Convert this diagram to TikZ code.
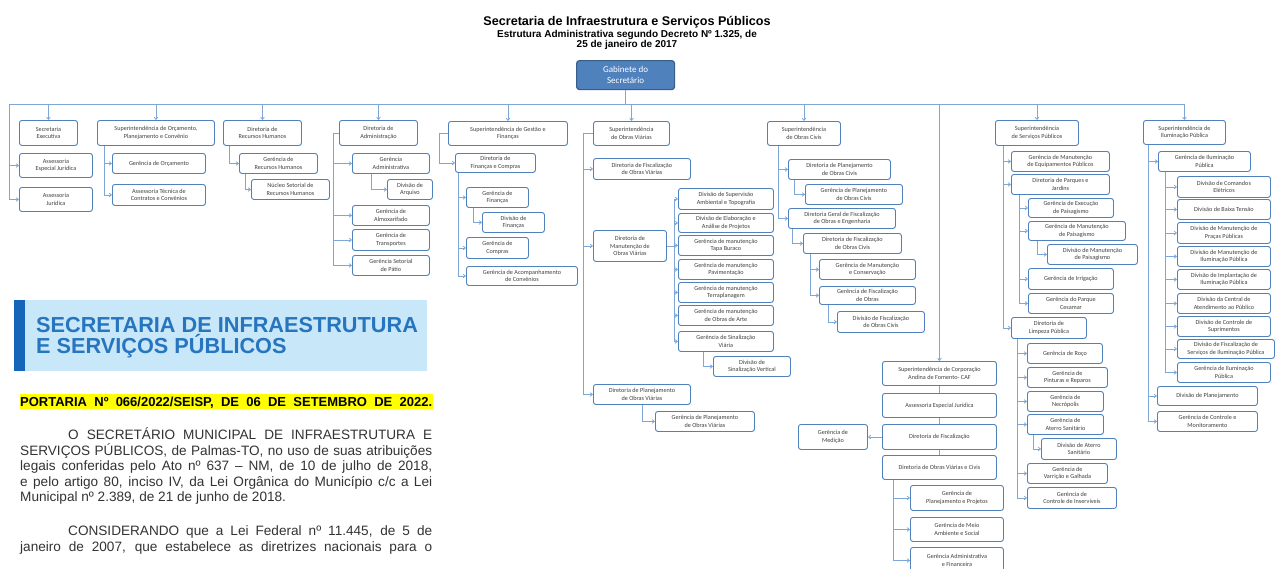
\documentclass[tikz,border=0pt]{standalone}
\usepackage{fontspec}
\setmainfont{Liberation Sans}
\newfontfamily\chartfont{Carlito}
\usepackage{tikz}
\usetikzlibrary{arrows.meta}
\usepackage{xcolor}
\definecolor{OfficeBlue}{RGB}{79, 129, 189}
\definecolor{OfficeDarkBlue}{RGB}{56, 93, 138}
\definecolor{OfficeLightBlue}{RGB}{127, 166, 216}
\definecolor{OfficeGrey}{RGB}{64, 64, 64}
\definecolor{DiarioSky}{RGB}{200, 231, 248}
\definecolor{DiarioNavy}{RGB}{21, 101, 184}
\definecolor{DiarioBlue}{RGB}{38, 117, 190}
\definecolor{DiarioInk}{RGB}{51, 51, 51}
\definecolor{DiarioYellow}{RGB}{255, 255, 0}
\colorlet{BoxStroke}{OfficeBlue}
\colorlet{BoxText}{OfficeGrey}
\colorlet{LinkColor}{OfficeLightBlue}
\colorlet{GabFill}{OfficeBlue}
\colorlet{GabStroke}{OfficeDarkBlue}
\tikzset{
    % Org chart box (white, rounded)
    orgbox/.style={
        draw=BoxStroke,
        fill=white,
        rounded corners=2.5pt,
        line width=0.9pt,
        anchor=north west,
        align=center,
        inner sep=1pt,
        text=BoxText,
        font=\chartfont\fontsize{6.2}{7.6}\selectfont
    },
    % Box size in pixels
    wh/.style 2 args={
        minimum width=#1pt,
        minimum height=#2pt
    },
    % Top box (Gabinete)
    gabbox/.style={
        draw=GabStroke,
        fill=GabFill,
        rounded corners=3pt,
        line width=1.2pt,
        anchor=north west,
        align=center,
        inner sep=1pt,
        text=white,
        font=\chartfont\fontsize{9}{11}\selectfont
    },
    % Connector with tip
    link/.style={
        draw=LinkColor,
        line width=0.8pt,
        -{Straight Barb[length=2.2pt,width=3.6pt]}
    },
    % Connector without tip
    trunk/.style={
        draw=LinkColor,
        line width=0.8pt
    },
    % Page texts
    titletext/.style={anchor=base, inner sep=0pt, font=\fontsize{12.6}{14}\selectfont\bfseries},
    subtitletext/.style={anchor=base, inner sep=0pt, font=\fontsize{10}{12}\selectfont\bfseries},
    bannertext/.style={anchor=base west, inner sep=0pt, text=DiarioBlue, font=\fontsize{21.7}{24}\selectfont\bfseries},
    doctext/.style={anchor=base west, inner sep=0pt, text=DiarioInk, font=\fontsize{13.6}{15.7}\selectfont}
}

\begin{document}
\begin{tikzpicture}[x=1pt, y=-1pt]

    \useasboundingbox (0,0) rectangle (1279,568);
    \fill[white] (0,0) rectangle (1279,568);
    \clip (0,0) rectangle (1279,568);

    % ==========================================
    % HEADER
    % ==========================================

    \node[titletext] (ttl1) at (627,25) {Secretaria de Infraestrutura e Serviços Públicos};
    \node[subtitletext] (ttl2) at (627,37.5) {Estrutura Administrativa segundo Decreto Nº 1.325, de};
    \node[subtitletext] (ttl3) at (627,47.5) {25 de janeiro de 2017};

    \node[gabbox, wh={98}{29}] (gab) at (576,60) {Gabinete do\\Secretário};

    % Main bar
    \coordinate (barL) at (9.5,104);

    % ==========================================
    % FIRST LEVEL
    % ==========================================

    \node[orgbox, wh={58}{25}] (sexec) at (19,120) {Secretaria\\Executiva};
    \node[orgbox, wh={117}{25}] (sorc) at (97,120) {Superintendência de Orçamento,\\Planejamento e Convênio};
    \node[orgbox, wh={78}{25}] (drh) at (223,120) {Diretoria de\\Recursos Humanos};
    \node[orgbox, wh={78}{25}] (dadm) at (339,120) {Diretoria de\\Administração};
    \node[orgbox, wh={119}{24}] (sgf) at (448,121) {Superintendência de Gestão e\\Finanças};
    \node[orgbox, wh={76}{24}] (sov) at (593,121) {Superintendência\\de Obras Viárias};
    \node[orgbox, wh={73}{24}] (soc) at (767,121) {Superintendência\\de Obras Civis};
    \node[orgbox, wh={114}{24}] (caf) at (882,361) {Superintendência de Corporação\\Andina de Fomento- CAF};
    \node[orgbox, wh={83}{25}] (ssp) at (995,120) {Superintendência\\de Serviços Públicos};
    \node[orgbox, wh={82}{24}] (sip) at (1143,120) {Superintendência de\\Iluminação Pública};

    \draw[trunk] (gab.south) -- (gab.south |- barL);
    \draw[trunk, line width=1pt] (barL) -- (barL -| sip.north);
    \foreach \s in {sexec, sorc, drh, dadm, sgf, sov, soc, caf, ssp, sip} {
        \draw[link] (barL -| \s.north) -- (\s.north);
    }

    % ==========================================
    % SECRETARIA EXECUTIVA / ASSESSORIAS
    % ==========================================

    \node[orgbox, wh={73}{24}] (aej) at (19,153) {Assessoria\\Especial Jurídica};
    \node[orgbox, wh={73}{24}] (ajur) at (19,187) {Assessoria\\Jurídica};
    \draw[link] (barL) |- (aej.west);
    \draw[link] (barL) |- (ajur.west);

    % ==========================================
    % ORCAMENTO
    % ==========================================

    \node[orgbox, wh={93}{20}] (gorc) at (112,153) {Gerência de Orçamento};
    \node[orgbox, wh={93}{21}] (atcc) at (112,184) {Assessoria Técnica de\\Contratos e Convênios};
    \coordinate (korc) at ([xshift=7pt]sorc.south west);
    \draw[link] (korc) |- (gorc.west);
    \draw[link] (korc) |- (atcc.west);

    % ==========================================
    % RECURSOS HUMANOS
    % ==========================================

    \node[orgbox, wh={78}{20}] (grh) at (239,153) {Gerência de\\Recursos Humanos};
    \node[orgbox, wh={78}{20}] (nsrh) at (251,179) {Núcleo Setorial de\\Recursos Humanos};
    \draw[link] ([xshift=6pt]drh.south west) |- (grh.west);
    \draw[link] ([xshift=6pt]grh.south west) |- (nsrh.west);

    % ==========================================
    % ADMINISTRACAO
    % ==========================================

    \node[orgbox, wh={77}{20}] (gadm) at (352,153) {Gerência\\Administrativa};
    \node[orgbox, wh={45}{20}] (darq) at (387,179) {Divisão de\\Arquivo};
    \node[orgbox, wh={77}{20}] (galm) at (352,205) {Gerência de\\Almoxarifado};
    \node[orgbox, wh={77}{21}] (gtra) at (352,229) {Gerência de\\Transportes};
    \node[orgbox, wh={77}{20}] (gpat) at (352,255) {Gerência Setorial\\de Pátio};
    \coordinate (kadm) at ([xshift=-6pt]dadm.west);
    \draw[trunk] (dadm.west) -- (kadm);
    \foreach \c in {gadm, galm, gtra, gpat} {
        \draw[link] (kadm) |- (\c.west);
    }
    \draw[link] ([xshift=19pt]gadm.south west) |- (darq.west);

    % ==========================================
    % GESTAO E FINANCAS
    % ==========================================

    \node[orgbox, wh={80}{19}] (dfc) at (455,153) {Diretoria de\\Finanças e Compras};
    \node[orgbox, wh={62}{20}] (gfin) at (466,187) {Gerência de\\Finanças};
    \node[orgbox, wh={62}{20}] (dfin) at (482,212) {Divisão de\\Finanças};
    \node[orgbox, wh={62}{21}] (gcom) at (466,237) {Gerência de\\Compras};
    \node[orgbox, wh={111}{19}] (gacv) at (466,266) {Gerência de Acompanhamento\\de Convênios};
    \coordinate (kgf) at ([xshift=-9pt]sgf.west);
    \draw[trunk] (sgf.west) -- (kgf);
    \draw[link] (kgf) |- (dfc.west);
    \foreach \c in {gfin, gcom, gacv} {
        \draw[link] ([xshift=3pt]dfc.south west) |- (\c.west);
    }
    \draw[link] ([xshift=7pt]gfin.south west) |- (dfin.west);

    % ==========================================
    % OBRAS VIARIAS
    % ==========================================

    \node[orgbox, wh={97}{21}] (dfov) at (593,158) {Diretoria de Fiscalização\\de Obras Viárias};
    \node[orgbox, wh={73}{31}] (dmov) at (593,230) {Diretoria de\\Manutenção de\\Obras Viárias};
    \node[orgbox, wh={97}{20}] (dpov) at (593,384) {Diretoria de Planejamento\\de Obras Viárias};
    \coordinate (kov) at ([xshift=-10pt]sov.west);
    \draw[trunk] (sov.west) -- (kov);
    \foreach \c in {dfov, dmov, dpov} {
        \draw[link] (kov) |- (\c.west);
    }

    % Manutencao children
    \coordinate (kmov) at ([xshift=7pt]dmov.east);
    \draw[trunk] (dmov.east) -- (kmov);
    \foreach \n/\y/\h/\txt in {
        dsat/188/21/{Divisão de Supervisão\\Ambiental e Topografia},
        deap/213/19/{Divisão de Elaboração e\\Análise de Projetos},
        gmtb/235/20/{Gerência de manutenção\\Tapa Buraco},
        gmpv/259/20/{Gerência de manutenção\\Pavimentação},
        gmtp/282/20/{Gerência de manutenção\\Terraplanagem},
        gmoa/305/20/{Gerência de manutenção\\de Obras de Arte},
        gsv/331/20/{Gerência de Sinalização\\Viária}} {
        \node[orgbox, wh={95}{\h}] (\n) at (678,\y) {\txt};
        \draw[link] (kmov) |- (\n.west);
    }
    \node[orgbox, wh={77}{20}] (dsvt) at (713,356) {Divisão de\\Sinalização Vertical};
    \draw[link] ([xshift=25pt]gsv.south west) |- (dsvt.west);

    \node[orgbox, wh={99}{20}] (gpov) at (655,411) {Gerência de Planejamento\\de Obras Viárias};
    \draw[link] ([xshift=49pt]dpov.south west) |- (gpov.west);

    % ==========================================
    % OBRAS CIVIS
    % ==========================================

    \node[orgbox, wh={102}{20}] (dpoc) at (788,159) {Diretoria de Planejamento\\de Obras Civis};
    \node[orgbox, wh={97}{20}] (gpoc) at (805,184) {Gerência de Planejamento\\de Obras Civis};
    \node[orgbox, wh={107}{20}] (dgfo) at (788,208) {Diretoria Geral de Fiscalização\\de Obras e Engenharia};
    \node[orgbox, wh={98}{20}] (dfoc) at (803,233) {Diretoria de Fiscalização\\de Obras Civis};
    \node[orgbox, wh={96}{20}] (gmc) at (819,259) {Gerência de Manutenção\\e Conservação};
    \node[orgbox, wh={96}{18}] (gfo) at (819,286) {Gerência de Fiscalização\\de Obras};
    \node[orgbox, wh={87}{21}] (dvfoc) at (837,311) {Divisão de Fiscalização\\de Obras Civis};
    \draw[link] ([xshift=11pt]soc.south west) |- (dpoc.west);
    \draw[link] ([xshift=11pt]soc.south west) |- (dgfo.west);
    \draw[link] ([xshift=6pt]dpoc.south west) |- (gpoc.west);
    \draw[link] ([xshift=4pt]dgfo.south west) |- (dfoc.west);
    \draw[link] ([xshift=7pt]dfoc.south west) |- (gmc.west);
    \draw[link] ([xshift=7pt]dfoc.south west) |- (gfo.west);
    \draw[link] ([xshift=9pt]gfo.south west) |- (dvfoc.west);

    % ==========================================
    % CAF
    % ==========================================

    \node[orgbox, wh={114}{24}] (aejc) at (882,393) {Assessoria Especial Jurídica};
    \node[orgbox, wh={114}{25}] (dfis) at (882,424) {Diretoria de Fiscalização};
    \node[orgbox, wh={114}{24}] (dovc) at (882,455) {Diretoria de Obras Viárias e Civis};
    \node[orgbox, wh={69}{25}] (gmed) at (798,424) {Gerência de\\Medição};
    \draw[trunk] (caf) -- (aejc);
    \draw[trunk] (aejc) -- (dfis);
    \draw[trunk] (dfis) -- (dovc);
    \draw[link] (dfis.west) -- (gmed.east);

    \node[orgbox, wh={93}{25}] (gpp) at (910,485) {Gerência de\\Planejamento e Projetos};
    \node[orgbox, wh={93}{24}] (gmas) at (910,517) {Gerência de Meio\\Ambiente e Social};
    \node[orgbox, wh={93}{26}] (gaf) at (910,547) {Gerência Administrativa\\e Financeira};
    \foreach \c in {gpp, gmas, gaf} {
        \draw[link] ([xshift=11pt]dovc.south west) |- (\c.west);
    }

    % ==========================================
    % SERVICOS PUBLICOS
    % ==========================================

    \node[orgbox, wh={98}{20}] (gmep) at (1011,151) {Gerência de Manutenção\\de Equipamentos Públicos};
    \node[orgbox, wh={98}{20}] (dpj) at (1011,174) {Diretoria de Parques e\\Jardins};
    \node[orgbox, wh={75}{21}] (dlp) at (1011,317) {Diretoria de\\Limpeza Pública};
    \foreach \c in {gmep, dpj, dlp} {
        \draw[link] ([xshift=8pt]ssp.south west) |- (\c.west);
    }

    % Parques e Jardins
    \node[orgbox, wh={85}{19}] (gexp) at (1028,198) {Gerência de Execução\\de Paisagismo};
    \node[orgbox, wh={97}{19}] (gmpa) at (1028,221) {Gerência de Manutenção\\de Paisagismo};
    \node[orgbox, wh={90}{20}] (dmpa) at (1047,244) {Divisão de Manutenção\\de Paisagismo};
    \node[orgbox, wh={85}{21}] (girr) at (1028,268) {Gerência de Irrigação};
    \node[orgbox, wh={85}{20}] (gpc) at (1028,293) {Gerência do Parque\\Cesamar};
    \foreach \c in {gexp, gmpa, girr, gpc} {
        \draw[link] ([xshift=8pt]dpj.south west) |- (\c.west);
    }
    \draw[link] ([xshift=9pt]gmpa.south west) |- (dmpa.west);

    % Limpeza Publica
    \node[orgbox, wh={75}{20}] (groc) at (1027,343) {Gerência de Roço};
    \node[orgbox, wh={80}{20}] (gpr) at (1027,367) {Gerência de\\Pinturas e Reparos};
    \node[orgbox, wh={76}{20}] (gnec) at (1027,391) {Gerência de\\Necrópolis};
    \node[orgbox, wh={76}{20}] (gas) at (1027,414) {Gerência de\\Aterro Sanitário};
    \node[orgbox, wh={75}{21}] (das) at (1041,438) {Divisão de Aterro\\Sanitário};
    \node[orgbox, wh={80}{20}] (gvg) at (1027,463) {Gerência de\\Varrição e Galhada};
    \node[orgbox, wh={89}{21}] (gci) at (1027,487) {Gerência de\\Controle de Inservíveis};
    \foreach \c in {groc, gpr, gnec, gas, gvg, gci} {
        \draw[link] ([xshift=6pt]dlp.south west) |- (\c.west);
    }
    \draw[link] ([xshift=6pt]gas.south west) |- (das.west);

    % ==========================================
    % ILUMINACAO PUBLICA
    % ==========================================

    \node[orgbox, wh={92}{20}] (gip) at (1158,151) {Gerência de Iluminação\\Pública};
    \node[orgbox, wh={100}{19}] (dpla) at (1157,386) {Divisão de Planejamento};
    \node[orgbox, wh={100}{20}] (gcm) at (1157,411) {Gerência de Controle e\\Monitoramento};
    \foreach \c in {gip, dpla, gcm} {
        \draw[link] ([xshift=5pt]sip.south west) |- (\c.west);
    }

    \foreach \n/\y/\w/\h/\txt in {
        dce/176/93/21/{Divisão de Comandos\\Elétricos},
        dbt/199/93/20/{Divisão de Baixa Tensão},
        dmpp/222/93/21/{Divisão de Manutenção de\\Praças Públicas},
        dmip/246/93/20/{Divisão de Manutenção de\\Iluminação Pública},
        diip/269/93/20/{Divisão de Implantação de\\Iluminação Pública},
        dcap/293/93/20/{Divisão da Central de\\Atendimento ao Público},
        dcs/316/93/20/{Divisão de Controle de\\Suprimentos},
        dfsi/339/97/19/{Divisão de Fiscalização de\\Serviços de Iluminação Pública},
        gip2/362/93/20/{Gerência de Iluminação\\Pública}} {
        \node[orgbox, wh={\w}{\h}] (\n) at (1177,\y) {\txt};
        \draw[link] ([xshift=7pt]gip.south west) |- (\n.west);
    }

    % ==========================================
    % DIARIO OFICIAL (left block)
    % ==========================================

    \fill[DiarioSky] (14,300) rectangle (427,371);
    \fill[DiarioNavy] (14,300) rectangle (25,371);
    \node[bannertext] (ban1) at (36,332) {SECRETARIA DE INFRAESTRUTURA};
    \node[bannertext] (ban2) at (36,353) {E SERVIÇOS PÚBLICOS};

    \fill[DiarioYellow] (20,394) rectangle (433,409);
    \node[anchor=base west, inner sep=0pt, font=\fontsize{13}{15}\selectfont\bfseries] (port)
        at (20,406) {\makebox[412pt][s]{PORTARIA Nº 066/2022/SEISP, DE 06 DE SETEMBRO DE 2022.}};

    \node[doctext] (doc1) at (68,439) {\makebox[364pt][s]{O SECRETÁRIO MUNICIPAL DE INFRAESTRUTURA E}};
    \node[doctext] (doc2) at (20,455) {\makebox[412pt][s]{SERVIÇOS PÚBLICOS, de Palmas-TO, no uso de suas atribuições}};
    \node[doctext] (doc3) at (20,470.5) {\makebox[412pt][s]{legais conferidas pelo Ato nº 637 – NM, de 10 de julho de 2018,}};
    \node[doctext] (doc4) at (20,486) {\makebox[412pt][s]{e pelo artigo 80, inciso IV, da Lei Orgânica do Município c/c a Lei}};
    \node[doctext] (doc5) at (20,501.7) {Municipal nº 2.389, de 21 de junho de 2018.};
    \node[doctext] (doc6) at (68,535) {\makebox[364pt][s]{CONSIDERANDO que a Lei Federal nº 11.445, de 5 de}};
    \node[doctext] (doc7) at (20,551) {\makebox[412pt][s]{janeiro de 2007, que estabelece as diretrizes nacionais para o}};

\end{tikzpicture}
\end{document}
